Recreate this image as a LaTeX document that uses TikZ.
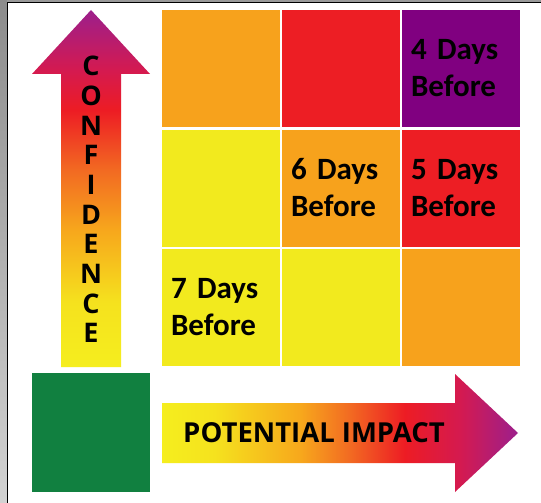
\documentclass[tikz,border=0pt]{standalone}
\usepackage{fontspec}
\newfontfamily\cellfont{Carlito}
\newfontfamily\arrowfont{Open Sans}

\definecolor{cellorange}{RGB}{247,162,28}
\definecolor{cellyellow}{RGB}{242,234,30}
\definecolor{cellred}{RGB}{237,30,36}
\definecolor{cellpurple}{RGB}{128,0,128}
\definecolor{impgreen}{RGB}{17,128,64}
\definecolor{shyellow}{RGB}{245,238,30}
\definecolor{shyellowb}{RGB}{245,226,30}
\definecolor{shorange}{RGB}{247,168,28}
\definecolor{shorred}{RGB}{242,106,34}
\definecolor{shred}{RGB}{237,28,36}
\definecolor{shcrimson}{RGB}{212,26,80}
\definecolor{shpurple}{RGB}{156,31,140}

\pgfdeclareverticalshading{confshade}{100bp}{color(0bp)=(shyellow); color(25bp)=(shyellow);
  color(34bp)=(shyellowb); color(44bp)=(shorange); color(52.6bp)=(shorred);
  color(61bp)=(shred); color(66.6bp)=(shcrimson); color(75bp)=(shpurple); color(100bp)=(shpurple)}
\pgfdeclarehorizontalshading{impshade}{100bp}{color(0bp)=(shyellow); color(25bp)=(shyellow);
  color(32.4bp)=(shyellowb); color(44.4bp)=(shorange); color(51.4bp)=(shorred);
  color(59.1bp)=(shred); color(66.9bp)=(shcrimson); color(75bp)=(shpurple); color(100bp)=(shpurple)}

\begin{document}
\begin{tikzpicture}[x=1pt,y=-1pt,
	cell/.style={minimum height=117pt, inner xsep=9pt, inner ysep=0pt, text width=100pt,
		align=left, font=\cellfont\bfseries\fontsize{31}{37}\selectfont},
	arrowtext/.style={inner sep=0pt, font=\arrowfont\bfseries}]
	\useasboundingbox (0,0) rectangle (541,503);
	% frame of the slide
	\fill[white] (0,0) rectangle (541,503);
	\shade[top color=gray!90, bottom color=gray!35] (0,0) rectangle (7,503);
	\fill[gray!80] (7,0) rectangle (541,2);
	\draw[line width=1.5pt] (7.5,503) -- (7.5,2.5) -- (541,2.5);
	% grid
	\node[cell, fill=cellorange] (c11) at (221,68.5) {};
	\node[cell, fill=cellred] (c12) at (341,68.5) {};
	\node[cell, fill=cellpurple] (four) at (461,68.5) {4 Days\\Before};
	\node[cell, fill=cellyellow] (c21) at (221,188) {};
	\node[cell, fill=cellorange] (six) at (341,188) {6 Days\\Before};
	\node[cell, fill=cellred] (five) at (461,188) {5 Days\\Before};
	\node[cell, fill=cellyellow] (seven) at (221,307.5) {7 Days\\Before};
	\node[cell, fill=cellyellow] (c32) at (341,307.5) {};
	\node[cell, fill=cellorange] (c33) at (461,307.5) {};
	% arrows
	\shade[shading=confshade] (61,367) -- (61,74) -- (32,74) -- (91,10) -- (150,74)
		-- (121,74) -- (121,367) -- cycle;
	\node[arrowtext, align=center, font=\arrowfont\bfseries\fontsize{27}{29.7}\selectfont]
		(conf) at (91,199.5) {C\\O\\N\\F\\I\\D\\E\\N\\C\\E};
	\shade[shading=impshade] (162,403) -- (455,403) -- (455,374) -- (518,433) -- (455,492)
		-- (455,463) -- (162,463) -- cycle;
	\node[arrowtext, font=\arrowfont\bfseries\fontsize{27.5}{32}\selectfont]
		(impact) at (314,433) {POTENTIAL IMPACT};
	\fill[impgreen] (32,373) rectangle (150,492);
\end{tikzpicture}
\end{document}
